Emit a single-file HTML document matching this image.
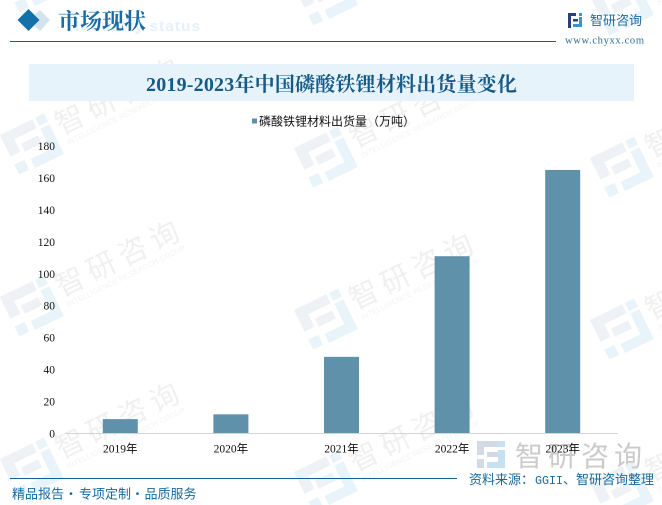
<!DOCTYPE html>
<html lang="zh">
<head>
<meta charset="utf-8">
<title>2019-2023年中国磷酸铁锂材料出货量变化</title>
<style>
html,body{margin:0;padding:0;background:#fff;}
#page{position:relative;width:662px;height:505px;overflow:hidden;background:#fff;}
svg{position:absolute;left:0;top:0;}
</style>
</head>
<body>
<div id="page">
<svg id="chart" width="662" height="505" viewBox="0 0 662 505" xmlns="http://www.w3.org/2000/svg">
  <g id="watermarks"></g>

  <g>
    <polygon points="40,10 50,20 40,31 29,20" fill="#d3e3ec"/>
    <polygon points="28.500,9 39.500,20 28.500,31 17.500,20" fill="#1470ab"/>
    <text x="75" y="31" font-family="'Liberation Sans',sans-serif" font-weight="700" font-size="15" fill="#e3f1fb" textLength="125">Industry status</text>
    <text x="58" y="29" font-family="'Liberation Serif','Noto Serif CJK SC',serif" font-weight="700" font-size="22" fill="#1a6ca3">市场现状</text>
    <line x1="10" y1="41.500" x2="556" y2="41.500" stroke="#1b5c86" stroke-width="1"/>
  </g>

  <g>
    <rect x="568" y="13" width="8" height="3" fill="#27407f"/>
    <rect x="568" y="13" width="3" height="15" fill="#27407f"/>
    <rect x="573" y="19" width="5" height="2.500" fill="#27407f"/>
    <rect x="579" y="13" width="3" height="3" fill="#3f92cf"/>
    <rect x="579" y="17" width="3" height="9" fill="#3f92cf"/>
    <rect x="573" y="24" width="9" height="3" fill="#3f92cf"/>
    <text x="590" y="25" font-family="'Noto Sans CJK SC',sans-serif" font-size="13" fill="#1f6a9f">智研咨询</text>
    <text x="565" y="43.500" font-family="'Liberation Serif',serif" font-size="10.500" fill="#2c6e9f" textLength="79">www.chyxx.com</text>
  </g>

  <rect x="29" y="64" width="605" height="37" fill="#e6f3fb"/>
  <text x="146" y="91" textLength="371" font-family="'Liberation Serif','Noto Serif CJK SC',serif" font-weight="700" font-size="20" fill="#165a86">2019-2023年中国磷酸铁锂材料出货量变化</text>

  <g>
    <rect x="252" y="118.500" width="5" height="5" fill="#5f92aa"/>
    <text x="259" y="125.500" font-family="'Noto Sans CJK SC',sans-serif" font-size="12" fill="#111">磷酸铁锂材料出货量（万吨）</text>
  </g>

  <g id="yaxis"></g>
  <g id="bars"></g>
  <line x1="65" y1="433.500" x2="618" y2="433.500" stroke="#d4d4d4" stroke-width="1"/>

  <g>
    <rect x="477" y="441" width="24" height="6" fill="#d3dae6"/>
    <rect x="477" y="441" width="7" height="14" fill="#d3dae6"/>
    <rect x="487" y="452" width="12" height="5" fill="#d3dae6"/>
    <rect x="477" y="459" width="7" height="9" fill="#d3dae6"/>
    <rect x="498" y="441" width="7" height="6" fill="#c6e1f2"/>
    <rect x="498" y="450" width="7" height="18" fill="#c6e1f2"/>
    <rect x="487" y="462" width="18" height="6" fill="#c6e1f2"/>
    <text x="515" y="466" font-family="'Noto Sans CJK SC',sans-serif" font-size="28" letter-spacing="5" fill="#cbcbcb">智研咨询</text>
  </g>

  <g id="xaxis"></g>

  <g>
    <line x1="10" y1="478.500" x2="457" y2="478.500" stroke="#0d6298" stroke-width="1"/>
    <text y="498.500" font-family="'Noto Sans CJK SC',sans-serif" font-size="13" fill="#1469a0"><tspan x="12">精品报告</tspan><tspan x="64.500">·</tspan><tspan x="79">专项定制</tspan><tspan x="131">·</tspan><tspan x="144.500">品质服务</tspan></text>
    <text y="484" font-family="'Noto Sans CJK SC',sans-serif" font-size="13" fill="#1469a0"><tspan x="469">资料来源：</tspan><tspan x="535" font-family="'Liberation Mono',monospace" font-size="11.700">GGII</tspan><tspan x="563">、</tspan><tspan x="576">智研咨询整理</tspan></text>
  </g>
</svg>
</div>
<script>
const categories = ['2019年', '2020年', '2021年', '2022年', '2023年'];
const shipments = [9, 12, 48, 111, 165];
const yTicks = [0, 20, 40, 60, 80, 100, 120, 140, 160, 180];

const NS = 'http://www.w3.org/2000/svg';
const plot = { left: 65, right: 618, top: 146, bottom: 433.5, yMax: 180 };
const barWidth = 35;

function yScale(v) {
  return plot.bottom - (v / plot.yMax) * (plot.bottom - plot.top);
}
function xCenter(i) {
  return plot.left + (i + 0.5) * (plot.right - plot.left) / categories.length;
}
function make(tag, attrs, parent) {
  const el = document.createElementNS(NS, tag);
  for (const k in attrs) el.setAttribute(k, attrs[k]);
  parent.appendChild(el);
  return el;
}

const yGroup = document.getElementById('yaxis');
yTicks.forEach(function (t) {
  const el = make('text', {
    x: 55, y: yScale(t) + 4, 'text-anchor': 'end',
    'font-family': "'Liberation Serif',serif", 'font-size': 11.5, fill: '#111'
  }, yGroup);
  el.textContent = t;
  
  
});

const barGroup = document.getElementById('bars');
shipments.forEach(function (v, i) {
  const el = make('rect', {
    x: xCenter(i) - barWidth / 2, y: yScale(v), width: barWidth,
    height: plot.bottom - yScale(v), fill: '#5f92aa'
  }, barGroup);
  
  
});

const xGroup = document.getElementById('xaxis');
categories.forEach(function (c, i) {
  const el = make('text', {
    x: xCenter(i), y: 452.5, 'text-anchor': 'middle',
    'font-family': "'Liberation Serif','Noto Sans CJK SC',serif", 'font-size': 11.5, fill: '#111'
  }, xGroup);
  el.textContent = c;
  
  
});

/* Repeating diagonal brand watermark (decorative, not data) */
const wmLayer = document.getElementById('watermarks');
function watermark(x, y) {
  const g = make('g', { transform: 'translate(' + x + ' ' + y + ') rotate(-26)' }, wmLayer);
  
  
  make('rect', { x: 0, y: 0, width: 36, height: 10, fill: '#eef1f6' }, g);
  make('rect', { x: 0, y: 0, width: 11, height: 24, fill: '#eef1f6' }, g);
  make('rect', { x: 15, y: 17, width: 19, height: 9, fill: '#eef1f6' }, g);
  make('rect', { x: 0, y: 33, width: 11, height: 11, fill: '#e9f4fa' }, g);
  make('rect', { x: 39, y: 0, width: 10, height: 9, fill: '#e9f4fa' }, g);
  make('rect', { x: 39, y: 12, width: 10, height: 33, fill: '#e9f4fa' }, g);
  make('rect', { x: 17, y: 35, width: 32, height: 10, fill: '#e9f4fa' }, g);
  const t1 = make('text', {
    x: 55, y: 27, 'font-family': "'Noto Sans CJK SC',sans-serif",
    'font-size': 29, 'letter-spacing': 6, fill: '#f0f0f0'
  }, g);
  t1.textContent = '智研咨询';
  const t2 = make('text', {
    x: 57, y: 39, 'font-family': "'Liberation Sans',sans-serif",
    'font-size': 7.5, textLength: 131, fill: '#f3f3f3'
  }, g);
  t2.textContent = 'INTELLIGENCE RESEARCH GROUP';
}
[[0, -27], [294, -14], [590, -4]].forEach(function (col) {
  [0, 162, 324, 486].forEach(function (dy) {
    watermark(col[0], col[1] + dy);
  });
});
</script>
</body>
</html>
